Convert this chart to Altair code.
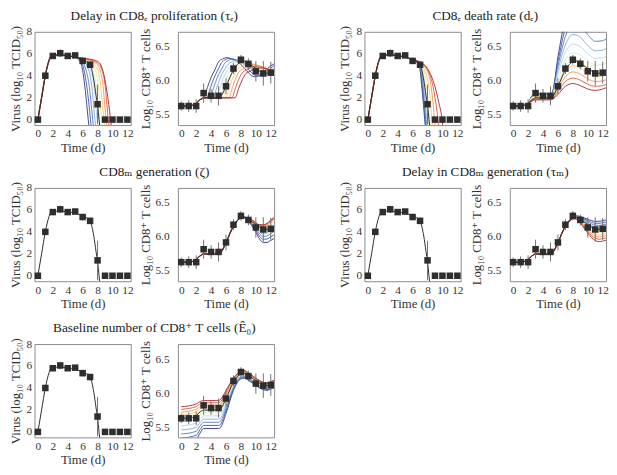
import altair as alt
import pandas as pd

FONT = "Liberation Serif, 'Times New Roman', Tinos, 'DejaVu Serif', serif"
TXT = "#333333"

# ---------------- axis ticks ----------------
TICKS_T = [0, 2, 4, 6, 8, 10, 12]
TICKS_V = [0, 2, 4, 6, 8]
TICKS_E = [5.5, 6.0, 6.5]

# ---------------- observed data (mean +/- sd) ----------------
DATA_T = [0, 1, 2, 3, 4, 5, 6, 7, 8, 9, 10, 11, 12]
VIRUS = [0, 4.0, 5.8, 6.05, 5.8, 5.85, 5.35, 5.0, 1.4, 0, 0, 0, 0]
VIRUS_ERR = [0, 0.1, 0.2, 0.35, 0.15, 0.15, 0.3, 0.3, 1.8, 0, 0, 0, 0]
CD8 = [5.63, 5.63, 5.63, 5.82, 5.78, 5.78, 5.92, 6.18, 6.31, 6.25, 6.14, 6.11, 6.12]
CD8_ERR = [0.07, 0.085, 0.1, 0.14, 0.1, 0.14, 0.115, 0.08, 0.07, 0.08, 0.15, 0.18, 0.16]

# ---------------- best-fit model (black) ----------------
FIT_V_T = [0, 0.5, 1, 1.5, 1.8, 2, 3, 4, 5, 6, 6.5, 7, 7.5, 7.8, 8.0, 8.2, 8.35]
FIT_V = [0, 2.0, 4.0, 5.4, 5.8, 5.85, 5.9, 5.8, 5.7, 5.45, 5.3, 5.0, 3.6, 2.2, 1.3, 0, -1]
FIT_E_T = [0, 1, 1.5, 2, 2.5, 3, 4, 5, 5.3, 6, 7, 8, 8.5, 9, 10, 11, 11.5, 12, 12.5]
FIT_E = [5.63, 5.63, 5.64, 5.67, 5.72, 5.75, 5.75, 5.75, 5.77, 5.92, 6.16, 6.28, 6.29,
         6.26, 6.18, 6.12, 6.11, 6.13, 6.15]

# colours of the parameter sweep (low -> high curve index)
PALETTE = ["#2b3383", "#3a55a3", "#5379bb", "#81a9d3", "#b3d5e7", "#d9eec4",
           "#f4e995", "#f7c673", "#ef9257", "#d9553c", "#a8232b"]

# ---------------- sweep: delay in CD8E proliferation ----------------
TE_V_PRE = [(0, 0), (0.5, 2.0), (1, 4.0), (1.5, 5.4), (1.8, 5.8), (2, 5.85), (3, 5.9), (4, 5.8), (5, 5.7)]
TE_V_TAILS = [
    [(5.5, 5.45), (6.0, 4.5), (6.3, 3.0), (6.55, 1.4), (6.75, 0), (6.9, -1)],
    [(5.5, 5.5), (6.0, 5.0), (6.5, 3.3), (6.85, 1.4), (7.05, 0), (7.2, -1)],
    [(5.5, 5.55), (6.0, 5.25), (6.5, 4.4), (6.9, 3.0), (7.15, 1.4), (7.35, 0), (7.5, -1)],
    [(6.0, 5.4), (6.5, 5.0), (7.0, 4.0), (7.25, 2.9), (7.45, 1.4), (7.65, 0), (7.8, -1)],
    [(6.0, 5.45), (6.5, 5.2), (7.0, 4.6), (7.5, 3.1), (7.75, 1.4), (7.95, 0), (8.1, -1)],
    [(6.0, 5.5), (7.0, 5.0), (7.5, 4.2), (7.8, 3.1), (8.05, 1.4), (8.25, 0), (8.4, -1)],
    [(6.0, 5.52), (7.0, 5.2), (7.6, 4.7), (8.1, 3.1), (8.35, 1.4), (8.55, 0), (8.7, -1)],
    [(6.0, 5.55), (7.0, 5.3), (7.9, 4.7), (8.4, 3.1), (8.65, 1.4), (8.85, 0), (9.0, -1)],
    [(6.0, 5.57), (7.0, 5.38), (8.0, 5.0), (8.5, 4.1), (8.75, 3.0), (8.95, 1.4), (9.15, 0), (9.3, -1)],
    [(6.0, 5.58), (7.0, 5.45), (8.0, 5.15), (8.5, 4.7), (9.0, 3.2), (9.25, 1.4), (9.45, 0), (9.6, -1)],
    [(6.0, 5.6), (7.0, 5.5), (8.0, 5.3), (8.5, 4.9), (9.0, 3.6), (9.5, 1.4), (9.75, 0), (9.9, -1)],
]
TE_E_PRE = [(0, 5.63), (1.5, 5.64), (2, 5.67), (2.5, 5.72), (3, 5.75)]
TE_E_TAILS = [
    [(3.5, 5.90), (4.0, 6.05), (4.5, 6.16), (5.0, 6.28), (5.5, 6.32), (6.0, 6.34), (7.0, 6.31), (8.0, 6.24),
     (9.0, 6.12), (9.5, 6.07), (10.0, 6.06), (11.0, 6.13), (12.0, 6.22), (12.6, 6.26)],
    [(3.42, 5.75), (3.92, 5.90), (4.42, 6.05), (4.92, 6.16), (5.42, 6.27), (5.92, 6.31), (6.42, 6.33),
     (7.42, 6.30), (8.42, 6.24), (9.42, 6.12), (9.92, 6.08), (10.42, 6.07), (11.42, 6.13), (12.42, 6.22), (12.6, 6.23)],
    [(3.84, 5.75), (4.34, 5.90), (4.84, 6.05), (5.34, 6.16), (5.84, 6.26), (6.34, 6.30), (6.84, 6.32),
     (7.84, 6.29), (8.84, 6.23), (9.84, 6.13), (10.34, 6.08), (10.84, 6.07), (11.84, 6.14), (12.6, 6.19)],
    [(4.26, 5.75), (4.76, 5.90), (5.26, 6.05), (5.76, 6.16), (6.26, 6.24), (6.76, 6.28), (7.26, 6.30),
     (8.26, 6.28), (9.26, 6.22), (10.26, 6.12), (10.76, 6.08), (11.26, 6.07), (12.26, 6.13), (12.6, 6.15)],
    [(4.68, 5.75), (5.18, 5.90), (5.68, 6.05), (6.18, 6.16), (6.68, 6.23), (7.18, 6.27), (7.68, 6.29),
     (8.68, 6.27), (9.68, 6.21), (10.68, 6.12), (11.18, 6.08), (11.68, 6.08), (12.6, 6.12)],
    [(5.1, 5.75), (5.6, 5.90), (6.1, 6.05), (6.6, 6.16), (7.1, 6.22), (7.6, 6.26), (8.1, 6.28),
     (9.1, 6.26), (10.1, 6.21), (11.1, 6.13), (11.6, 6.09), (12.1, 6.08), (12.6, 6.08)],
    [(5.52, 5.75), (6.02, 5.90), (6.52, 6.05), (7.02, 6.16), (7.52, 6.21), (8.02, 6.25), (8.52, 6.27),
     (9.52, 6.25), (10.52, 6.21), (11.52, 6.13), (12.02, 6.10), (12.6, 6.09)],
    [(5.94, 5.75), (6.44, 5.90), (6.94, 6.05), (7.44, 6.16), (7.94, 6.20), (8.44, 6.24), (8.94, 6.26),
     (9.94, 6.24), (10.94, 6.20), (11.94, 6.13), (12.6, 6.10)],
    [(6.36, 5.75), (6.86, 5.90), (7.36, 6.05), (7.86, 6.15), (8.36, 6.18), (8.86, 6.22), (9.36, 6.24),
     (10.36, 6.22), (11.36, 6.19), (12.36, 6.13), (12.6, 6.12)],
    [(6.78, 5.75), (7.28, 5.90), (7.78, 6.04), (8.28, 6.13), (8.78, 6.16), (9.28, 6.19), (9.78, 6.21),
     (10.78, 6.20), (11.78, 6.16), (12.6, 6.12)],
    [(7.2, 5.75), (7.7, 5.89), (8.2, 6.02), (8.7, 6.11), (9.2, 6.14), (9.7, 6.17), (10.2, 6.19),
     (11.2, 6.18), (12.2, 6.15), (12.6, 6.13)],
]

# ---------------- sweep: CD8E death rate ----------------
DE_V_PRE = [(0, 0), (0.5, 2.0), (1, 4.0), (1.5, 5.4), (1.8, 5.8), (2, 5.85), (3, 5.9), (4, 5.8), (5, 5.7), (6, 5.45)]
DE_V_TAILS = [
    [(6.5, 5.25), (6.9, 4.9), (7.2, 3.2), (7.45, 1.4), (7.62, 0), (7.75, -1)],
    [(6.5, 5.25), (7.0, 4.85), (7.3, 3.2), (7.53, 1.4), (7.7, 0), (7.83, -1)],
    [(6.5, 5.27), (7.0, 4.9), (7.38, 3.2), (7.61, 1.4), (7.78, 0), (7.91, -1)],
    [(6.5, 5.28), (7.0, 4.95), (7.45, 3.3), (7.7, 1.4), (7.87, 0), (8.0, -1)],
    [(6.5, 5.29), (7.0, 4.98), (7.55, 3.3), (7.8, 1.4), (7.97, 0), (8.1, -1)],
    [(6.5, 5.3), (7.0, 5.02), (7.6, 3.6), (7.9, 1.6), (8.1, 0), (8.25, -1)],
    [(6.5, 5.32), (7.0, 5.08), (7.7, 3.9), (8.05, 1.8), (8.3, 0), (8.45, -1)],
    [(6.5, 5.34), (7.0, 5.12), (7.8, 4.2), (8.3, 2.3), (8.6, 0), (8.75, -1)],
    [(6.5, 5.36), (7.0, 5.16), (8.0, 4.4), (8.6, 2.4), (8.95, 0), (9.1, -1)],
    [(6.5, 5.38), (7.0, 5.2), (8.0, 4.55), (8.8, 2.8), (9.4, 0), (9.55, -1)],
    [(6.5, 5.4), (7.0, 5.24), (8.0, 4.65), (9.0, 3.0), (9.5, 1.6), (9.95, 0), (10.1, -1)],
]
DE_E_T = [0, 1.5, 2, 2.5, 3, 5, 5.2, 6, 7, 8, 9, 10, 11, 12, 12.5]
DE_E_ROWS = [
    [5.63, 5.64, 5.67, 5.78, 5.81, 5.81, 5.82, 6.35, 6.95, 7.4, 7.5, 7.3, 7.0, 6.95, 6.98],
    [5.63, 5.64, 5.67, 5.775, 5.805, 5.805, 5.815, 6.28, 6.78, 7.05, 7.05, 6.9, 6.76, 6.75, 6.78],
    [5.63, 5.64, 5.67, 5.77, 5.80, 5.80, 5.81, 6.22, 6.65, 6.85, 6.82, 6.68, 6.58, 6.59, 6.62],
    [5.63, 5.64, 5.67, 5.765, 5.795, 5.795, 5.80, 6.16, 6.53, 6.68, 6.64, 6.52, 6.44, 6.45, 6.48],
    [5.63, 5.64, 5.67, 5.76, 5.79, 5.79, 5.795, 6.10, 6.42, 6.54, 6.50, 6.40, 6.33, 6.34, 6.36],
    [5.63, 5.64, 5.67, 5.75, 5.78, 5.78, 5.785, 6.03, 6.31, 6.41, 6.38, 6.29, 6.23, 6.24, 6.26],
    [5.63, 5.64, 5.67, 5.74, 5.77, 5.77, 5.775, 5.97, 6.21, 6.31, 6.28, 6.20, 6.14, 6.15, 6.17],
    [5.63, 5.64, 5.67, 5.73, 5.76, 5.76, 5.765, 5.92, 6.13, 6.22, 6.19, 6.11, 6.06, 6.07, 6.09],
    [5.63, 5.64, 5.67, 5.72, 5.745, 5.745, 5.75, 5.88, 6.06, 6.13, 6.10, 6.03, 5.99, 6.00, 6.02],
    [5.63, 5.64, 5.67, 5.71, 5.73, 5.73, 5.735, 5.84, 5.99, 6.04, 6.01, 5.95, 5.92, 5.93, 5.95],
    [5.63, 5.64, 5.67, 5.70, 5.72, 5.72, 5.725, 5.80, 5.92, 5.96, 5.93, 5.88, 5.86, 5.88, 5.90],
]

# ---------------- sweep: CD8M generation (zeta) ----------------
ZE_T = [8.5, 9, 9.5, 10, 10.5, 11, 11.5, 12, 12.5]
ZE_ROWS = [
    [6.28, 6.23, 6.16, 6.07, 5.97, 5.92, 5.92, 5.95, 5.98],
    [6.282, 6.237, 6.176, 6.095, 6.008, 5.967, 5.97, 6.004, 6.036],
    [6.283, 6.244, 6.191, 6.118, 6.041, 6.008, 6.015, 6.052, 6.085],
    [6.285, 6.249, 6.203, 6.137, 6.071, 6.045, 6.054, 6.094, 6.129],
    [6.286, 6.254, 6.214, 6.154, 6.096, 6.076, 6.088, 6.13, 6.166],
    [6.287, 6.258, 6.223, 6.168, 6.117, 6.102, 6.116, 6.16, 6.197],
    [6.288, 6.261, 6.23, 6.179, 6.134, 6.123, 6.138, 6.184, 6.222],
    [6.288, 6.264, 6.236, 6.189, 6.148, 6.141, 6.158, 6.205, 6.243],
    [6.289, 6.266, 6.242, 6.197, 6.161, 6.157, 6.175, 6.223, 6.262],
    [6.29, 6.268, 6.246, 6.204, 6.172, 6.17, 6.189, 6.238, 6.278],
    [6.29, 6.27, 6.25, 6.21, 6.18, 6.18, 6.20, 6.25, 6.29],
]

# ---------------- sweep: delay in CD8M generation ----------------
TM_T = [7.5, 8, 8.5, 9, 9.5, 10, 10.5, 11, 11.5, 12, 12.5]
TM_ROWS = [
    [6.24, 6.29, 6.31, 6.30, 6.28, 6.26, 6.24, 6.23, 6.23, 6.24, 6.25],
    [6.238, 6.288, 6.305, 6.291, 6.265, 6.24, 6.215, 6.202, 6.2, 6.21, 6.22],
    [6.236, 6.286, 6.30, 6.282, 6.25, 6.22, 6.19, 6.174, 6.17, 6.18, 6.19],
    [6.234, 6.284, 6.295, 6.273, 6.235, 6.2, 6.165, 6.146, 6.14, 6.15, 6.16],
    [6.232, 6.282, 6.29, 6.265, 6.222, 6.182, 6.142, 6.121, 6.113, 6.123, 6.133],
    [6.23, 6.28, 6.286, 6.257, 6.208, 6.164, 6.12, 6.096, 6.086, 6.096, 6.106],
    [6.229, 6.279, 6.281, 6.249, 6.195, 6.146, 6.098, 6.07, 6.059, 6.069, 6.079],
    [6.227, 6.277, 6.276, 6.24, 6.18, 6.126, 6.073, 6.042, 6.029, 6.039, 6.049],
    [6.225, 6.275, 6.272, 6.231, 6.165, 6.106, 6.048, 6.014, 5.999, 6.009, 6.019],
    [6.222, 6.272, 6.266, 6.221, 6.148, 6.084, 6.02, 5.984, 5.966, 5.976, 5.986],
    [6.22, 6.27, 6.26, 6.21, 6.13, 6.06, 5.99, 5.95, 5.93, 5.94, 5.95],
]

# ---------------- sweep: baseline number of CD8 T cells ----------------
E0_T = [0, 2, 2.5, 3, 5, 5.3, 6, 7, 8, 8.5, 9, 10, 11, 11.5, 12, 12.5]
E0_ROWS = [
    [5.28, 5.32, 5.41, 5.48, 5.48, 5.50, 5.70, 6.04, 6.21, 6.22, 6.19, 6.11, 6.05, 6.04, 6.06, 6.08],
    [5.34, 5.38, 5.46, 5.526, 5.526, 5.546, 5.737, 6.06, 6.222, 6.232, 6.202, 6.122, 6.062, 6.052, 6.072, 6.092],
    [5.399, 5.439, 5.515, 5.572, 5.572, 5.592, 5.775, 6.081, 6.234, 6.244, 6.214, 6.134, 6.074, 6.064, 6.084, 6.104],
    [5.458, 5.498, 5.568, 5.618, 5.618, 5.638, 5.812, 6.101, 6.246, 6.256, 6.226, 6.146, 6.086, 6.076, 6.096, 6.116],
    [5.521, 5.561, 5.624, 5.666, 5.666, 5.686, 5.852, 6.123, 6.258, 6.268, 6.238, 6.158, 6.098, 6.088, 6.108, 6.128],
    [5.581, 5.621, 5.677, 5.712, 5.712, 5.732, 5.889, 6.143, 6.27, 6.28, 6.25, 6.17, 6.11, 6.10, 6.12, 6.14],
    [5.645, 5.685, 5.733, 5.762, 5.762, 5.782, 5.93, 6.165, 6.283, 6.293, 6.263, 6.183, 6.123, 6.113, 6.133, 6.153],
    [5.681, 5.721, 5.767, 5.792, 5.792, 5.812, 5.956, 6.178, 6.292, 6.302, 6.272, 6.192, 6.132, 6.122, 6.142, 6.162],
    [5.72, 5.76, 5.802, 5.824, 5.824, 5.844, 5.984, 6.192, 6.301, 6.311, 6.281, 6.201, 6.141, 6.131, 6.151, 6.171],
    [5.761, 5.801, 5.84, 5.858, 5.858, 5.878, 6.012, 6.206, 6.311, 6.321, 6.291, 6.211, 6.151, 6.141, 6.161, 6.181],
    [5.80, 5.84, 5.875, 5.89, 5.89, 5.91, 6.04, 6.22, 6.32, 6.33, 6.30, 6.22, 6.16, 6.15, 6.17, 6.19],
]

TITLES = [
    "Delay in CD8ₑ proliferation (τₑ)",
    "CD8ₑ death rate (dₑ)",
    "CD8ₘ generation (ζ)",
    "Delay in CD8ₘ generation (τₘ)",
    "Baseline number of CD8⁺ T cells (Ê₀)",
]

W, H = 98, 95
GAP_IN_L, GAP_IN_R, GAP_MID = 48, 50, 92
X_DOM = [-0.45, 12.45]
V_DOM = [-0.5, 8]
E_DOM = [5.35, 6.72]

AXIS_STYLE = dict(labelFont=FONT, titleFont=FONT, labelFontSize=11.5, titleFontSize=13,
                  labelColor=TXT, titleColor=TXT, labelFontWeight="normal",
                  titleFontWeight="normal", ticks=False, domain=False, grid=False)


def family_pts(pre, tails):
    rows = []
    for k, tail in enumerate(tails):
        for t, v in list(pre) + list(tail):
            rows.append({"t": t, "v": v, "k": k})
    return pd.DataFrame(rows)


def family_grid(pre, times, value_rows):
    return family_pts(pre, [list(zip(times, r)) for r in value_rows])


FIT_E_PTS = list(zip(FIT_E_T, FIT_E))


def xenc():
    return alt.X("t:Q", scale=alt.Scale(domain=X_DOM, nice=False, zero=False),
                 axis=alt.Axis(values=TICKS_T, title="Time (d)", format="d",
                               labelPadding=3, titlePadding=2, **AXIS_STYLE))


def yenc(kind, field="v"):
    if kind == "v":
        return alt.Y(f"{field}:Q", scale=alt.Scale(domain=V_DOM, nice=False, zero=False),
                     axis=alt.Axis(values=TICKS_V, title="Virus (log₁₀ TCID₅₀)", format="d",
                                   labelPadding=3, titlePadding=4, **AXIS_STYLE))
    return alt.Y(f"{field}:Q", scale=alt.Scale(domain=E_DOM, nice=False, zero=False),
                 axis=alt.Axis(values=TICKS_E, title="Log₁₀ CD8⁺ T cells", format=".1f",
                               labelPadding=9, titlePadding=3, **AXIS_STYLE))


def panel(kind, fam=None, title=None, dx=0.0):
    x = xenc()
    y = yenc(kind)
    layers = []
    if fam is not None:
        layers.append(
            alt.Chart(fam).mark_line(interpolate="monotone", clip=True, strokeWidth=0.9).encode(
                x=x, y=y,
                color=alt.Color("k:O", scale=alt.Scale(domain=list(range(len(PALETTE))), range=PALETTE),
                                legend=None)))
    if kind == "v":
        fit = pd.DataFrame({"t": FIT_V_T, "v": FIT_V})
        obs = pd.DataFrame({"t": DATA_T, "v": VIRUS,
                            "lo": [a - b for a, b in zip(VIRUS, VIRUS_ERR)],
                            "hi": [a + b for a, b in zip(VIRUS, VIRUS_ERR)]})
    else:
        fit = pd.DataFrame({"t": FIT_E_T, "v": FIT_E})
        obs = pd.DataFrame({"t": DATA_T, "v": CD8,
                            "lo": [a - b for a, b in zip(CD8, CD8_ERR)],
                            "hi": [a + b for a, b in zip(CD8, CD8_ERR)]})
    layers.append(alt.Chart(fit).mark_line(interpolate="monotone", clip=True, color="#2b2b2b",
                                           strokeWidth=1).encode(x=x, y=y))
    layers.append(alt.Chart(obs).mark_rule(clip=True, color="#707070", strokeWidth=1).encode(
        x=x, y=yenc(kind, "lo"), y2="hi:Q"))
    layers.append(alt.Chart(obs).mark_square(size=44, color="#2e2e2e", opacity=1).encode(x=x, y=y))
    ch = alt.layer(*layers).properties(width=W, height=H)
    if title is not None:
        ch = ch.properties(title=alt.TitleParams(text=title, anchor="middle", frame="group", dx=dx,
                                                 offset=3, fontSize=13.5, font=FONT,
                                                 fontWeight="normal", color="#222222", limit=400))
    return ch


def spacer(w):
    return alt.Chart(pd.DataFrame({"t": [0]})).mark_point(opacity=0).encode(
        x=alt.value(0), y=alt.value(0)).properties(
        width=w, height=H, view=alt.ViewBackground(stroke="transparent"))


DX_L = (W + GAP_IN_L + W) / 2 - W / 2
DX_R = (W + GAP_IN_R + W) / 2 - W / 2

fam_te_v = family_pts(TE_V_PRE, TE_V_TAILS)
fam_te_e = family_pts(TE_E_PRE, TE_E_TAILS)
fam_de_v = family_pts(DE_V_PRE, DE_V_TAILS)
fam_de_e = family_grid([], DE_E_T, DE_E_ROWS)
fam_ze_e = family_grid([p for p in FIT_E_PTS if p[0] <= 8], ZE_T, ZE_ROWS)
fam_tm_e = family_grid([p for p in FIT_E_PTS if p[0] <= 7], TM_T, TM_ROWS)
fam_e0_e = family_grid([], E0_T, E0_ROWS)

cells = [
    panel("v", fam_te_v, TITLES[0], DX_L), spacer(GAP_IN_L), panel("e", fam_te_e),
    spacer(GAP_MID),
    panel("v", fam_de_v, TITLES[1], DX_R), spacer(GAP_IN_R), panel("e", fam_de_e),
    panel("v", None, TITLES[2], DX_L), spacer(GAP_IN_L), panel("e", fam_ze_e),
    spacer(GAP_MID),
    panel("v", None, TITLES[3], DX_R), spacer(GAP_IN_R), panel("e", fam_tm_e),
    panel("v", None, TITLES[4], DX_L), spacer(GAP_IN_L), panel("e", fam_e0_e),
]

chart = alt.concat(*cells, columns=7, spacing={"row": 64, "column": 0}, bounds="flush",
                   padding={"top": -4, "left": 0, "right": 0, "bottom": 0}).configure(
    background="white").configure_view(stroke="#8a8a8a", strokeWidth=1).configure_axis(
    labelFont=FONT, titleFont=FONT, labelFontSize=11.5, titleFontSize=13,
    labelColor=TXT, titleColor=TXT, titleFontWeight="normal", labelFontWeight="normal",
    ticks=False, domain=False, grid=False)

chart.save("out.html", embed_options={"renderer": "svg", "actions": False})
